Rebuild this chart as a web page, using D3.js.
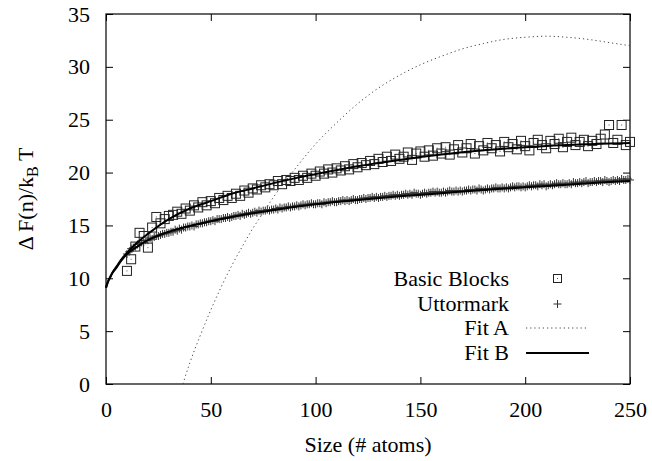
<!DOCTYPE html>
<html>
<head>
<meta charset="utf-8">
<script src="https://cdn.jsdelivr.net/npm/d3@7"></script>
</head>
<body style="margin:0">
<svg id="chart" width="652" height="461"></svg>
<script>
// Basic Blocks: n = 10, 12, ..., 250
const basicStart = 10, basicStep = 2;
const basicValues = [
  10.7, 11.8, 13.0, 14.3, 14.0, 12.9, 14.8, 15.8, 15.2, 15.6,
  15.9, 16.0, 16.3, 16.1, 16.6, 16.4, 16.9, 16.7, 17.2, 16.9,
  17.3, 17.1, 17.6, 17.4, 17.8, 17.6, 18.0, 17.8, 18.3, 18.1,
  18.5, 18.4, 18.8, 18.6, 18.9, 18.8, 19.2, 18.9, 19.3, 19.2,
  19.5, 19.3, 19.7, 19.5, 19.9, 19.7, 20.1, 19.9, 20.3, 20.0,
  20.4, 20.2, 20.6, 20.3, 20.8, 20.5, 20.9, 20.7, 21.1, 20.8,
  21.3, 21.0, 21.5, 21.1, 21.7, 21.3, 21.5, 21.9, 21.2, 21.8,
  22.0, 21.5, 22.1, 21.6, 22.3, 21.8, 22.4, 21.7, 22.2, 22.6,
  21.9, 22.3, 22.7, 21.8, 22.5, 22.1, 22.8, 22.3, 22.6, 22.0,
  22.9, 22.4, 22.7, 22.2, 23.0, 22.5, 22.1, 22.8, 23.1, 22.6,
  22.3, 23.0, 22.7, 23.2, 22.4, 22.9, 23.3, 22.6, 22.9, 23.1,
  22.5, 23.0, 22.7, 23.2, 23.6, 24.5, 22.8, 23.1, 24.5, 22.6,
  22.9
];

// Uttormark: n = 10, 11, ..., 250
const uttStart = 10, uttStep = 1;
const uttValues = [
  12.3, 12.5, 12.8, 12.9, 13.0, 13.2, 13.3, 13.4, 13.4, 13.6,
  13.6, 13.8, 13.7, 13.9, 14.0, 14.0, 14.1, 14.2, 14.2, 14.3,
  14.3, 14.4, 14.4, 14.6, 14.5, 14.7, 14.6, 14.8, 14.8, 14.9,
  14.9, 15.0, 14.9, 15.1, 15.1, 15.2, 15.2, 15.3, 15.3, 15.4,
  15.4, 15.5, 15.4, 15.6, 15.6, 15.6, 15.7, 15.7, 15.8, 15.7,
  15.8, 15.9, 15.9, 16.0, 15.9, 16.1, 16.0, 16.1, 16.2, 16.1,
  16.2, 16.3, 16.2, 16.4, 16.3, 16.4, 16.4, 16.5, 16.4, 16.5,
  16.5, 16.6, 16.5, 16.7, 16.6, 16.7, 16.7, 16.8, 16.7, 16.8,
  16.8, 16.9, 16.8, 16.9, 17.0, 16.9, 17.0, 17.0, 17.1, 17.0,
  17.0, 17.1, 17.1, 17.0, 17.2, 17.1, 17.2, 17.2, 17.3, 17.2,
  17.2, 17.3, 17.3, 17.4, 17.3, 17.4, 17.3, 17.4, 17.5, 17.4,
  17.4, 17.5, 17.5, 17.6, 17.5, 17.6, 17.6, 17.7, 17.6, 17.7,
  17.6, 17.7, 17.7, 17.8, 17.7, 17.8, 17.8, 17.9, 17.8, 17.9,
  17.8, 17.9, 17.9, 18.0, 17.9, 18.0, 17.9, 18.1, 18.0, 18.0,
  17.9, 18.0, 18.1, 18.0, 18.1, 18.1, 18.2, 18.1, 18.2, 18.1,
  18.1, 18.2, 18.1, 18.2, 18.3, 18.2, 18.2, 18.3, 18.2, 18.3,
  18.2, 18.3, 18.3, 18.4, 18.3, 18.4, 18.4, 18.3, 18.5, 18.4,
  18.3, 18.4, 18.5, 18.4, 18.5, 18.5, 18.6, 18.5, 18.5, 18.6,
  18.5, 18.6, 18.5, 18.6, 18.7, 18.6, 18.7, 18.7, 18.6, 18.7,
  18.6, 18.7, 18.8, 18.7, 18.8, 18.8, 18.7, 18.9, 18.8, 18.9,
  18.7, 18.8, 18.9, 18.8, 18.9, 19.0, 18.9, 18.9, 19.0, 18.9,
  18.9, 19.0, 18.9, 19.1, 19.0, 19.0, 19.1, 19.0, 19.1, 19.2,
  19.0, 19.1, 19.1, 19.2, 19.1, 19.2, 19.2, 19.1, 19.3, 19.2,
  19.1, 19.2, 19.3, 19.2, 19.3, 19.2, 19.4, 19.3, 19.3, 19.4,
  19.3
];

// Fit A (dotted), [n, value]
const fitA = [
  [36.7, 0], [40, 2.0], [45, 4.6], [50, 7.0], [55, 9.2], [60, 11.2],
  [65, 13.0], [70, 14.7], [75, 16.2], [80, 17.7], [90, 20.3], [100, 22.7],
  [110, 24.7], [120, 26.5], [130, 28.0], [140, 29.2], [150, 30.2],
  [160, 31.0], [170, 31.7], [180, 32.2], [190, 32.6], [200, 32.8],
  [210, 32.9], [220, 32.8], [230, 32.6], [240, 32.3], [250, 32.0]
];

// Fit B (solid) through Basic Blocks and through Uttormark
const fitBBasic = [
  [0, 9.1], [1, 9.7], [2, 10.1], [3, 10.5], [5, 11.1], [7, 11.7], [10, 12.4],
  [15, 13.4], [20, 14.2], [30, 15.6], [40, 16.6], [50, 17.3], [60, 18.0],
  [70, 18.5], [80, 19.0], [90, 19.45], [100, 19.85], [120, 20.6], [140, 21.2],
  [160, 21.7], [180, 22.1], [200, 22.4], [220, 22.6], [240, 22.75], [250, 22.8]
];
const fitBUtt = [
  [0, 9.1], [1, 9.7], [2, 10.1], [3, 10.5], [5, 11.0], [7, 11.6], [10, 12.3],
  [15, 13.0], [20, 13.6], [30, 14.4], [40, 14.95], [50, 15.4], [60, 15.8],
  [70, 16.15], [80, 16.45], [90, 16.75], [100, 17.0], [120, 17.4], [140, 17.75],
  [160, 18.05], [180, 18.35], [200, 18.6], [220, 18.85], [240, 19.1], [250, 19.2]
];

const xTicks = [0, 50, 100, 150, 200, 250];
const yTicks = [0, 5, 10, 15, 20, 25, 30, 35];

const fontSize = "22px";
const serif = '"Times New Roman"';

const svg = d3.select("#chart");

const x = d3.scaleLinear().domain([0, 250]).range([106, 630]);
const y = d3.scaleLinear().domain([0, 35]).range([384, 14]);

// every label goes through this so its font is set the same way
function label(sel) {
  return sel.style("font-family", serif).style("font-size", fontSize).attr("fill", "#000");
}

function styleAxis(g) {
  g.select(".domain").remove();
  g.selectAll(".tick line").attr("stroke", "#000").attr("stroke-width", 1);
  g.selectAll(".tick text").call(label);
}

// axes (ticks inward, mirrored)
svg.append("g")
  .attr("transform", `translate(0,${y(0)})`)
  .call(d3.axisBottom(x).tickValues(xTicks).tickSizeInner(-7).tickSizeOuter(0).tickPadding(17))
  .call(styleAxis);
svg.append("g")
  .attr("transform", `translate(0,${y(35)})`)
  .call(d3.axisTop(x).tickValues(xTicks).tickSizeInner(-7).tickSizeOuter(0).tickFormat(""))
  .call(styleAxis);
svg.append("g")
  .attr("transform", `translate(${x(0)},0)`)
  .call(d3.axisLeft(y).tickValues(yTicks).tickSizeInner(-7).tickSizeOuter(0).tickPadding(16))
  .call(styleAxis);
svg.append("g")
  .attr("transform", `translate(${x(250)},0)`)
  .call(d3.axisRight(y).tickValues(yTicks).tickSizeInner(-7).tickSizeOuter(0).tickFormat(""))
  .call(styleAxis);

// frame
svg.append("rect")
  .attr("x", x(0))
  .attr("y", y(35))
  .attr("width", x(250) - x(0))
  .attr("height", y(0) - y(35))
  .attr("fill", "none")
  .attr("stroke", "#000")
  .attr("stroke-width", 1.2);

// axis titles
svg.append("text")
  .attr("x", (x(0) + x(250)) / 2)
  .attr("y", 452)
  .attr("text-anchor", "middle")
  .call(label)
  .text("Size (# atoms)");

const yTitle = svg.append("text")
  .attr("transform", `translate(33,199) rotate(-90)`)
  .attr("text-anchor", "middle")
  .call(label);
yTitle.append("tspan").text("\u0394 F(n)/k");
yTitle.append("tspan").attr("dy", 5).style("font-size", "16px").text("B");
yTitle.append("tspan").attr("dy", -5).text(" T");

// clip for curves
svg.append("clipPath").attr("id", "plot-clip")
  .append("rect")
  .attr("x", x(0)).attr("y", y(35))
  .attr("width", x(250) - x(0)).attr("height", y(0) - y(35));

const line = d3.line()
  .x(d => x(d[0]))
  .y(d => y(d[1]))
  .curve(d3.curveMonotoneX);

// Basic Blocks squares
const basic = svg.append("g");
basicValues.forEach((v, i) => {
  const cx = x(basicStart + i * basicStep), cy = y(v);
  basic.append("rect")
    .attr("x", cx - 4.5).attr("y", cy - 4.5)
    .attr("width", 9).attr("height", 9)
    .attr("fill", "none")
    .attr("stroke", "#222")
    .attr("stroke-width", 1);
  basic.append("rect")
    .attr("x", cx - 0.5).attr("y", cy - 0.5)
    .attr("width", 1).attr("height", 1)
    .attr("fill", "#555");
});

// Uttormark pluses
svg.append("g").selectAll("path")
  .data(uttValues)
  .enter().append("path")
  .attr("transform", (v, i) => `translate(${x(uttStart + i * uttStep)},${y(v)})`)
  .attr("d", "M-4,0H4M0,-4V4")
  .attr("stroke", "#333")
  .attr("stroke-width", 1)
  .attr("fill", "none");

// Fit A
svg.append("path")
  .datum(fitA)
  .attr("clip-path", "url(#plot-clip)")
  .attr("d", line)
  .attr("fill", "none")
  .attr("stroke", "#444")
  .attr("stroke-width", 1)
  .attr("stroke-dasharray", "1.2,3");

// Fit B
[fitBBasic, fitBUtt].forEach(data => {
  svg.append("path")
    .datum(data)
    .attr("d", line)
    .attr("fill", "none")
    .attr("stroke", "#000")
    .attr("stroke-width", 2);
});

// legend
const legend = svg.append("g");
const legendRows = [
  { label: "Basic Blocks", y: 279 },
  { label: "Uttormark", y: 304 },
  { label: "Fit A", y: 328 },
  { label: "Fit B", y: 353 }
];
legendRows.forEach(r => {
  legend.append("text")
    .attr("x", 509)
    .attr("y", r.y + 7)
    .attr("text-anchor", "end")
    .call(label)
    .text(r.label);
});
legend.append("rect")
  .attr("x", 553.5).attr("y", 274.5).attr("width", 8).attr("height", 8)
  .attr("fill", "none").attr("stroke", "#222").attr("stroke-width", 1);
legend.append("rect")
  .attr("x", 557).attr("y", 278).attr("width", 1).attr("height", 1)
  .attr("fill", "#555");
legend.append("path")
  .attr("d", "M553.5,304H561.5M557.5,300V308")
  .attr("stroke", "#333").attr("stroke-width", 1);
legend.append("line")
  .attr("x1", 526).attr("x2", 589).attr("y1", 328).attr("y2", 328)
  .attr("stroke", "#444").attr("stroke-width", 1).attr("stroke-dasharray", "1.2,3");
legend.append("line")
  .attr("x1", 526).attr("x2", 589).attr("y1", 353).attr("y2", 353)
  .attr("stroke", "#000").attr("stroke-width", 2);
</script>
</body>
</html>
